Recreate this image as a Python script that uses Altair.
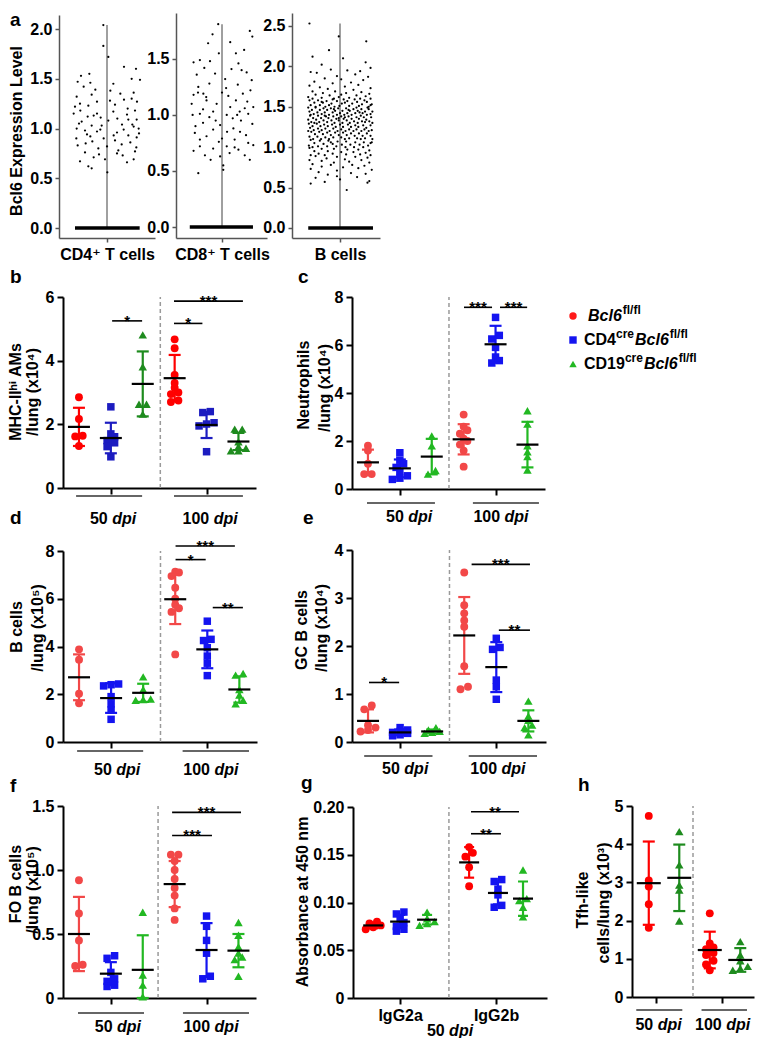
import altair as alt
import pandas as pd

FONT = "Liberation Sans, Arial, DejaVu Sans"
OX, OY = 8, 8
W, H = 747, 1030
FS = 16

# ---------------- data ----------------
# panel a: (jitter, expression) of non-zero cells
A1_PTS = [
    (-0.055, 2.04), (-0.055, 1.83), (0.02, 1.72), (0.255, 1.62), (-0.265, 1.55), (-0.39, 1.53), (0.435, 1.60),
    (0.37, 1.50), (0.495, 1.49), (-0.44, 1.47), (0.095, 1.45), (-0.175, 1.39), (-0.23, 1.34), (-0.455, 1.32),
    (0.255, 1.29), (0.37, 1.30), (0.045, 1.28), (-0.405, 1.25), (-0.28, 1.23), (0.31, 1.20), (0.42, 1.18),
    (0.095, 1.17), (-0.15, 1.15), (-0.5, 1.15), (-0.29, 1.12), (-0.095, 1.11), (0.155, 1.10), (0.32, 1.09),
    (0.445, 1.09), (-0.38, 1.07), (0.225, 1.04), (-0.23, 1.03), (-0.08, 1.03), (-0.455, 1.00), (0.40, 1.02),
    (0.475, 1.00), (-0.33, 0.98), (-0.15, 0.97), (0.15, 0.96), (0.32, 0.93), (-0.25, 0.92), (0.445, 0.91),
    (0.12, 0.88), (-0.32, 0.85), (-0.44, 0.83), (0.0, 0.82), (-0.13, 0.80), (0.17, 0.78), (0.42, 0.77),
    (0.235, 0.73), (-0.20, 0.71), (-0.405, 0.67), (0.40, 0.69), (-0.28, 0.62), (-0.23, 0.60), (0.005, 0.56),
    (-0.03, 0.69), (0.05, 1.38), (-0.35, 1.42), (0.20, 1.35), (0.45, 1.27), (-0.48, 1.22), (0.30, 1.14),
    (-0.20, 1.13), (0.02, 1.08), (-0.42, 1.05), (0.38, 1.04), (-0.10, 0.99), (0.25, 0.99), (-0.30, 0.94),
    (0.10, 0.93), (0.48, 0.95), (-0.05, 0.90), (0.35, 0.86), (-0.22, 0.87), (0.22, 0.84), (-0.46, 0.90),
    (0.15, 0.75), (-0.33, 0.76), (0.44, 0.81), (-0.12, 0.74), (0.30, 0.66), (-0.40, 1.18), (0.12, 1.24),
    (-0.15, 1.27), (0.40, 1.36), (-0.25, 1.46),
]
A2_PTS = [
    (-0.06, 1.81), (0.44, 1.75), (-0.22, 1.64), (0.13, 1.65), (-0.35, 1.49), (-0.45, 1.47), (-0.19, 1.48),
    (0.26, 1.46), (0.31, 1.40), (0.47, 1.31), (0.39, 1.38), (-0.11, 1.37), (-0.375, 1.25), (-0.45, 1.18),
    (-0.295, 1.19), (0.065, 1.24), (0.22, 1.13), (-0.245, 1.13), (-0.085, 1.10), (0.13, 1.07), (0.36, 1.06),
    (0.495, 1.07), (-0.465, 1.00), (-0.35, 1.01), (-0.14, 1.03), (0.075, 1.00), (0.24, 1.00), (0.415, 1.01),
    (-0.30, 0.93), (-0.14, 0.87), (-0.03, 0.91), (0.18, 0.88), (0.285, 0.85), (-0.43, 0.84), (-0.245, 0.81),
    (0.0, 0.79), (0.20, 0.78), (0.415, 0.75), (0.495, 0.73), (-0.35, 0.72), (-0.14, 0.70), (0.075, 0.72),
    (0.26, 0.69), (0.36, 0.64), (-0.27, 0.64), (-0.03, 0.63), (0.02, 0.55), (0.02, 0.51), (-0.375, 0.48),
    (-0.05, 1.55), (0.35, 1.58), (-0.40, 1.36), (0.05, 1.32), (0.45, 1.22), (-0.20, 1.28), (0.25, 1.27),
    (-0.48, 1.10), (0.10, 1.17), (-0.30, 1.05), (0.40, 1.12), (0.17, 0.97), (-0.10, 0.95), (0.48, 0.92),
    (-0.42, 0.90), (0.30, 0.95), (-0.20, 0.98), (0.08, 0.85), (-0.35, 0.78), (0.38, 0.82), (-0.05, 0.76),
    (0.20, 0.71), (-0.45, 0.68), (0.12, 0.66), (-0.18, 0.60), (0.44, 0.60), (0.28, 1.03), (-0.25, 1.16),
    (0.0, 1.20), (-0.38, 1.20), (0.33, 1.19), (0.15, 1.41), (-0.28, 1.42), (0.48, 1.70), (-0.15, 1.72),
    (0.22, 1.55),
]
A3_PTS = [
    (-0.50, 2.53), (-0.02, 2.37), (0.43, 2.31), (-0.18, 2.20), (0.05, 2.10), (-0.45, 2.12), (0.42, 2.05),
    (-0.30, 2.02), (0.50, 1.98), (-0.15, 1.96), (0.12, 1.95), (-0.48, 1.93), (0.33, 1.94), (-0.38, 1.92),
    (0.25, 1.90), (-0.05, 1.88), (0.46, 1.87), (-0.25, 1.85), (0.02, 1.84), (0.38, 1.83), (-0.42, 1.81),
    (0.18, 1.80), (-0.12, 1.79), (0.30, 1.77), (-0.50, 1.76), (0.08, 1.75), (-0.33, 1.74), (0.50, 1.73),
    (-0.20, 1.72), (0.22, 1.71),
    (-0.45, 1.69), (-0.08, 1.69), (0.35, 1.68), (0.10, 1.67), (-0.28, 1.67), (0.48, 1.66), (-0.40, 1.65),
    (0.02, 1.65), (0.27, 1.64), (-0.17, 1.64), (0.42, 1.63), (-0.52, 1.62), (-0.02, 1.62), (0.15, 1.61),
    (-0.30, 1.61), (0.33, 1.60), (-0.10, 1.60), (0.50, 1.60), (-0.45, 1.60), (0.06, 1.59),
    (-0.50, 1.58), (-0.36, 1.58), (-0.22, 1.57), (-0.05, 1.57), (0.12, 1.57), (0.28, 1.56), (0.44, 1.56),
    (-0.42, 1.55), (-0.28, 1.55), (-0.14, 1.54), (0.03, 1.54), (0.20, 1.54), (0.36, 1.53), (0.52, 1.53),
    (-0.48, 1.52), (-0.33, 1.52), (-0.18, 1.52), (-0.01, 1.51), (0.15, 1.51), (0.31, 1.51), (0.47, 1.50),
    (-0.40, 1.50), (-0.24, 1.50), (-0.09, 1.50), (0.08, 1.55), (0.24, 1.59), (0.40, 1.58), (-0.12, 1.59),
    (0.50, 1.52), (-0.30, 1.56),
    (-0.52, 1.49), (-0.40, 1.49), (-0.27, 1.48), (-0.15, 1.48), (-0.03, 1.48), (0.10, 1.48), (0.22, 1.47),
    (0.35, 1.47), (0.47, 1.47), (-0.46, 1.46), (-0.33, 1.46), (-0.21, 1.46), (-0.08, 1.45), (0.04, 1.45),
    (0.16, 1.45), (0.29, 1.45), (0.41, 1.44), (0.53, 1.44), (-0.50, 1.44), (-0.37, 1.43), (-0.25, 1.43),
    (-0.12, 1.43), (0.00, 1.42), (0.12, 1.42), (0.25, 1.42), (0.37, 1.42), (0.50, 1.41), (-0.43, 1.41),
    (-0.30, 1.41), (-0.18, 1.40), (-0.05, 1.40), (0.07, 1.40), (0.19, 1.40), (0.32, 1.43), (0.44, 1.40),
    (-0.48, 1.40), (0.27, 1.49), (-0.10, 1.47), (0.14, 1.46), (0.45, 1.49),
    (-0.49, 1.39), (-0.36, 1.39), (-0.23, 1.38), (-0.11, 1.38), (0.02, 1.38), (0.14, 1.38), (0.27, 1.37),
    (0.39, 1.37), (0.51, 1.37), (-0.44, 1.36), (-0.31, 1.36), (-0.19, 1.36), (-0.06, 1.35), (0.06, 1.35),
    (0.19, 1.35), (0.31, 1.35), (0.43, 1.34), (-0.52, 1.34), (-0.39, 1.34), (-0.27, 1.33), (-0.14, 1.33),
    (-0.02, 1.33), (0.11, 1.33), (0.23, 1.32), (0.36, 1.32), (0.48, 1.32), (-0.47, 1.31), (-0.34, 1.31),
    (-0.21, 1.31), (-0.09, 1.30), (0.04, 1.30), (0.16, 1.30), (0.29, 1.30), (0.41, 1.31), (0.53, 1.30),
    (-0.42, 1.30), (0.08, 1.37), (-0.25, 1.39), (0.34, 1.39), (-0.02, 1.36),
    (-0.51, 1.29), (-0.38, 1.29), (-0.26, 1.28), (-0.13, 1.28), (0.00, 1.28), (0.13, 1.28), (0.25, 1.27),
    (0.38, 1.27), (0.50, 1.27), (-0.45, 1.26), (-0.32, 1.26), (-0.20, 1.26), (-0.07, 1.25), (0.05, 1.25),
    (0.18, 1.25), (0.30, 1.25), (0.43, 1.24), (-0.49, 1.24), (-0.36, 1.23), (-0.24, 1.23), (-0.11, 1.23),
    (0.02, 1.22), (0.15, 1.22), (0.27, 1.22), (0.40, 1.22), (0.52, 1.21), (-0.43, 1.21), (-0.30, 1.21),
    (-0.17, 1.20), (-0.04, 1.20), (0.09, 1.20), (0.22, 1.20), (0.35, 1.20), (0.47, 1.20), (-0.52, 1.20),
    (-0.47, 1.19), (-0.34, 1.19), (-0.21, 1.18), (-0.08, 1.18), (0.05, 1.18), (0.18, 1.17), (0.31, 1.17),
    (0.44, 1.17), (-0.41, 1.16), (-0.28, 1.16), (-0.15, 1.15), (-0.02, 1.15), (0.11, 1.15), (0.24, 1.14),
    (0.37, 1.14), (0.50, 1.14), (-0.50, 1.13), (-0.37, 1.13), (-0.24, 1.12), (-0.11, 1.12), (0.02, 1.12),
    (0.15, 1.11), (0.28, 1.11), (0.41, 1.11), (-0.44, 1.10), (-0.31, 1.10), (-0.18, 1.10), (0.08, 1.10),
    (0.34, 1.10), (0.53, 1.10),
    (-0.48, 1.09), (-0.33, 1.08), (-0.19, 1.08), (-0.04, 1.07), (0.10, 1.07), (0.25, 1.06), (0.39, 1.06),
    (0.52, 1.06), (-0.42, 1.05), (-0.27, 1.04), (-0.12, 1.04), (0.03, 1.03), (0.17, 1.03), (0.32, 1.03),
    (0.46, 1.02), (-0.51, 1.02), (-0.36, 1.01), (-0.21, 1.01), (-0.06, 1.01), (0.09, 1.00), (0.23, 1.00),
    (0.38, 1.00), (-0.45, 1.00), (0.50, 1.05), (-0.15, 1.06),
    (-0.50, 0.99), (-0.30, 0.98), (-0.10, 0.98), (0.12, 0.97), (0.30, 0.97), (0.48, 0.96), (-0.42, 0.95),
    (-0.20, 0.95), (0.02, 0.94), (0.22, 0.94), (0.42, 0.93), (-0.35, 0.92), (-0.12, 0.92), (0.10, 0.91),
    (0.33, 0.91), (-0.48, 0.90), (0.50, 0.90), (-0.25, 0.90),
    (-0.40, 0.89), (-0.05, 0.88), (0.25, 0.88), (0.45, 0.87), (-0.22, 0.86), (0.08, 0.85), (-0.50, 0.84),
    (0.35, 0.84), (-0.30, 0.83), (0.15, 0.82), (-0.10, 0.81), (0.48, 0.81),
    (-0.45, 0.79), (-0.15, 0.78), (0.20, 0.78), (0.40, 0.77), (-0.30, 0.76), (0.05, 0.75), (0.30, 0.74),
    (-0.48, 0.73), (0.52, 0.72), (-0.05, 0.71),
    (-0.35, 0.69), (0.18, 0.68), (0.42, 0.67), (-0.20, 0.66), (-0.05, 0.64), (0.28, 0.63), (-0.40, 0.62),
    (0.00, 0.60), (0.48, 0.58), (-0.25, 0.57), (-0.48, 0.55), (0.45, 0.56), (0.11, 0.47),
]
A_ZERO_SPAN = [(-0.48, 0.49), (-0.51, 0.49), (-0.52, 0.54)]
A_NAMES = ["CD4⁺ T cells", "CD8⁺ T cells", "B cells"]

# panels b-f : groups = Bcl6 50dpi, CD4cre 50dpi, CD19cre 50dpi, Bcl6 100dpi, CD4cre 100dpi, CD19cre 100dpi
B_VALS = [[2.85, 2.17, 1.64, 1.62, 1.32], [2.55, 1.70, 1.61, 1.49, 1.42, 1.30, 0.98],
          [4.81, 3.81, 2.63, 2.63, 2.32], [4.67, 4.39, 3.55, 3.30, 3.15, 3.00, 2.95, 2.75, 2.70],
          [2.40, 2.37, 2.05, 2.01, 1.95, 1.14], [1.85, 1.85, 1.45, 1.30, 1.25, 1.17, 1.17]]
B_MEAN = [1.92, 1.57, 3.27, 3.45, 1.98, 1.46]
B_SD = [0.60, 0.48, 1.02, 0.73, 0.41, 0.27]
B_SIG = [(2.04, 2.98, 5.25, "*"), (3.98, 4.87, 5.17, "*"), (3.98, 6.14, 5.87, "***")]

C_VALS = [[1.80, 1.60, 1.05, 0.62, 0.62], [1.51, 1.20, 1.05, 0.90, 0.72, 0.55, 0.45, 0.40],
          [2.21, 1.80, 0.77, 0.62], [3.10, 2.60, 2.45, 2.30, 2.10, 2.00, 1.85, 1.60, 0.93],
          [7.15, 6.40, 6.25, 5.90, 5.50, 5.35, 5.25], [3.26, 2.70, 1.80, 1.55, 1.35, 0.79]]
C_MEAN = [1.11, 0.86, 1.35, 2.07, 6.03, 1.85]
C_SD = [0.53, 0.37, 0.74, 0.63, 0.77, 0.95]
C_SIG = [(4.01, 4.89, 7.57, "***"), (5.14, 5.99, 7.57, "***")]

D_VALS = [[3.88, 3.45, 2.02, 1.62], [2.43, 2.40, 2.35, 1.90, 1.60, 1.34, 0.95],
          [2.73, 2.20, 1.80, 1.78, 1.75], [7.13, 7.10, 6.95, 6.46, 6.00, 5.75, 5.60, 5.45, 3.67],
          [5.06, 4.30, 4.25, 3.95, 3.60, 3.30, 2.78], [2.87, 2.80, 2.20, 1.97, 1.75, 1.60]]
D_MEAN = [2.71, 1.84, 2.06, 5.98, 3.88, 2.20]
D_SD = [0.96, 0.62, 0.38, 1.04, 0.79, 0.55]
D_SIG = [(4.01, 4.95, 7.64, "*"), (4.01, 5.86, 8.21, "***"), (5.17, 6.11, 5.63, "**")]

E_VALS = [[0.76, 0.68, 0.35, 0.30, 0.25, 0.22], [0.30, 0.25, 0.22, 0.20, 0.18, 0.15, 0.13],
          [0.30, 0.25, 0.22, 0.20, 0.18], [3.53, 2.85, 2.68, 2.53, 2.40, 1.58, 1.15, 1.10],
          [2.16, 1.97, 1.93, 1.29, 1.15, 0.89], [0.85, 0.54, 0.45, 0.35, 0.30, 0.15]]
E_MEAN = [0.44, 0.20, 0.22, 2.22, 1.56, 0.44]
E_SD = [0.24, 0.06, 0.04, 0.80, 0.52, 0.22]
E_SIG = [(1.03, 1.97, 1.24, "*"), (4.23, 6.05, 3.70, "***"), (5.08, 6.05, 2.33, "**")]

F_VALS = [[0.92, 0.66, 0.45, 0.26, 0.25], [0.33, 0.31, 0.20, 0.15, 0.13, 0.10, 0.09],
          [0.67, 0.18, 0.10, 0.01], [1.12, 1.12, 1.07, 1.00, 0.93, 0.86, 0.80, 0.70, 0.61],
          [0.64, 0.56, 0.45, 0.35, 0.17, 0.15], [0.59, 0.49, 0.40, 0.35, 0.32, 0.30, 0.17]]
F_MEAN = [0.50, 0.19, 0.22, 0.89, 0.375, 0.37]
F_SD = [0.29, 0.09, 0.27, 0.18, 0.21, 0.13]
F_SIG = [(3.92, 6.08, 1.45, "***"), (3.92, 5.17, 1.27, "***")]

# panel g: IgG2a (Bcl6, CD4cre, CD19cre), IgG2b (Bcl6, CD4cre, CD19cre)
G_VALS = [[0.080, 0.078, 0.076, 0.074, 0.072], [0.090, 0.088, 0.083, 0.079, 0.075, 0.072, 0.070],
          [0.090, 0.083, 0.080, 0.078, 0.076], [0.158, 0.152, 0.148, 0.137, 0.117],
          [0.124, 0.122, 0.114, 0.108, 0.097, 0.095], [0.134, 0.104, 0.102, 0.095, 0.085]]
G_MEAN = [0.076, 0.080, 0.082, 0.142, 0.110, 0.104]
G_SD = [0.003, 0.007, 0.005, 0.016, 0.012, 0.018]
G_SIG = [(4.63, 5.74, 0.172, "**"), (4.63, 6.41, 0.195, "**")]

# panel h: Bcl6 50, CD19cre 50, Bcl6 100, CD19cre 100
H_VALS = [[4.74, 3.05, 2.89, 2.43, 1.81], [4.33, 3.46, 2.93, 2.80, 1.99],
          [2.19, 1.40, 1.30, 1.25, 1.15, 1.10, 0.95, 0.85, 0.70], [1.45, 1.10, 0.95, 0.80, 0.75, 0.70]]
H_MEAN = [2.98, 3.12, 1.23, 0.97]
H_SD = [1.09, 0.87, 0.48, 0.31]

# ---------------- helpers ----------------
def X(p):
    return p - OX


def Y(p):
    return p - OY


def lin(dom, r0, r1):
    return alt.Scale(domain=list(dom), range=[r0, r1], nice=False, zero=False)


ONE = pd.DataFrame({"k": [0]})


def text(x, y, s, size=FS, weight="bold", style="normal", align="left", baseline="middle", angle=None,
         color="black"):
    kw = dict(font=FONT, fontSize=size, fontWeight=weight, fontStyle=style, align=align, baseline=baseline,
              color=color)
    if angle is not None:
        kw["angle"] = angle
    return alt.Chart(ONE).mark_text(**kw).encode(x=alt.value(X(x)), y=alt.value(Y(y)), text=alt.value(s))


def axis_left(xp, values, fmt=None, expr=None, color="black", width=2.0, tick=6, pad=3, size=FS):
    kw = dict(orient="left", offset=-X(xp), values=values, title=None, grid=False, domainColor=color,
              domainWidth=width, tickColor=color, tickWidth=width, tickSize=tick, labelFont=FONT,
              labelFontSize=size, labelFontWeight="bold", labelColor="black", labelPadding=pad,
              labelOverlap=False, labelFlush=False)
    if fmt:
        kw["format"] = fmt
    if expr:
        kw["labelExpr"] = expr
    return alt.Axis(**kw)


def axis_bottom(yp, values, expr=None, labels=True, color="black", width=2.0, tick=6, pad=3, size=FS):
    kw = dict(orient="bottom", offset=Y(yp) - H, values=values, title=None, grid=False, domainColor=color,
              domainWidth=width, tickColor=color, tickWidth=width, tickSize=tick, labels=labels,
              labelFont=FONT, labelFontSize=size, labelFontWeight="bold", labelColor="black",
              labelPadding=pad, labelOverlap=False, labelFlush=False)
    if expr:
        kw["labelExpr"] = expr
    return alt.Axis(**kw)


def swarm(vals, ppy, step=7.5, thr=4.0, maxrow=3):
    idx = sorted(range(len(vals)), key=lambda i: vals[i])
    offs = [0.0] * len(vals)
    rows, cur = [], [idx[0]]
    for i in idx[1:]:
        if (vals[i] - vals[cur[0]]) * ppy < thr and len(cur) < maxrow:
            cur.append(i)
        else:
            rows.append(cur)
            cur = [i]
    rows.append(cur)
    for r in rows:
        n = len(r)
        for k, i in enumerate(r):
            offs[i] = (k - (n - 1) / 2.0) * step
    return offs


SHAPE_SIZE = {"circle": 62, "square": 56, "triangle-up": 72}


def dot_panel(geo, vals, means, sds, sig, colors, shapes, msize=22, capsize=12):
    xs = lin(geo["xdom"], X(geo["x0"]), X(geo["x1"]))
    ys = lin(geo["ydom"], Y(geo["yb"]), Y(geo["yt"]))
    ppx = (geo["x1"] - geo["x0"]) / (geo["xdom"][1] - geo["xdom"][0])
    ppy = (geo["yb"] - geo["yt"]) / (geo["ydom"][1] - geo["ydom"][0])
    pos = geo["pos"]
    n = len(pos)
    rows = []
    for g, (p, vs) in enumerate(zip(pos, vals)):
        offs = swarm(vs, ppy)
        for v, o in zip(vs, offs):
            rows.append({"x": p + o / ppx, "v": v, "g": g, "s": SHAPE_SIZE[shapes[g]]})
    pts = pd.DataFrame(rows)
    summ = pd.DataFrame({"x": pos, "m": means,
                         "lo": [max(geo["ydom"][0], m - s) for m, s in zip(means, sds)],
                         "hi": [m + s for m, s in zip(means, sds)], "g": list(range(n))})
    col = alt.Color("g:N", scale=alt.Scale(domain=list(range(n)), range=colors), legend=None)
    shp = alt.Shape("g:N", scale=alt.Scale(domain=list(range(n)), range=shapes), legend=None)
    ax_x = lambda f: alt.X(f, scale=xs, axis=None)
    ax_y = lambda f: alt.Y(f, scale=ys, axis=None)
    out = []
    dash = pd.DataFrame({"x": [geo["dash"]], "y0": [geo["ydom"][0]], "y1": [geo["ydom"][1]]})
    out.append(alt.Chart(dash).mark_rule(color="#9a9a9a", strokeWidth=1.5, strokeDash=[4, 3]).encode(
        x=ax_x("x:Q"), y=ax_y("y0:Q"), y2="y1:Q"))
    out.append(alt.Chart(pts).mark_point(filled=True, opacity=1, strokeWidth=0).encode(
        x=alt.X("x:Q", scale=xs, axis=geo["xaxis"]),
        y=alt.Y("v:Q", scale=ys, axis=geo["yaxis"]),
        color=col, shape=shp, size=alt.Size("s:Q", scale=None)))
    out.append(alt.Chart(summ).mark_rule(strokeWidth=2.2).encode(
        x=ax_x("x:Q"), y=ax_y("lo:Q"), y2="hi:Q", color=col))
    for f in ["lo:Q", "hi:Q"]:
        out.append(alt.Chart(summ).mark_tick(orient="horizontal", size=capsize, thickness=2.2, opacity=1).encode(
            x=ax_x("x:Q"), y=ax_y(f), color=col))
    out.append(alt.Chart(summ).mark_tick(orient="horizontal", size=msize, thickness=2.2, opacity=1,
                                         color="black").encode(x=ax_x("x:Q"), y=ax_y("m:Q")))
    if sig:
        sdf = pd.DataFrame(sig, columns=["x1", "x2", "y", "t"])
        sdf["xc"] = (sdf["x1"] + sdf["x2"]) / 2
        out.append(alt.Chart(sdf).mark_rule(color="black", strokeWidth=1.6).encode(
            x=ax_x("x1:Q"), x2="x2:Q", y=ax_y("y:Q")))
        out.append(alt.Chart(sdf).mark_text(font=FONT, fontSize=15, fontWeight="bold", baseline="alphabetic",
                                            dy=5).encode(x=ax_x("xc:Q"), y=ax_y("y:Q"), text="t:N"))
    if geo.get("ul"):
        udf = pd.DataFrame(geo["ul"], columns=["x1", "x2"])
        out.append(alt.Chart(udf).mark_rule(color="#333333", strokeWidth=1.5).encode(
            x=ax_x("x1:Q"), x2="x2:Q", y=alt.value(Y(geo["ul_y"]))))
    for c, num in geo.get("labs", []):
        wn = 0.556 * FS * len(num)
        ws = 0.278 * FS
        wd = 1.5 * FS
        tot = wn + ws + wd
        ldf = pd.DataFrame({"x": [c]})
        out.append(alt.Chart(ldf).mark_text(font=FONT, fontSize=FS, fontWeight="bold", align="left",
                                            baseline="middle", dx=-tot / 2).encode(
            x=ax_x("x:Q"), y=alt.value(Y(geo["lab_y"])), text=alt.value(num)))
        out.append(alt.Chart(ldf).mark_text(font=FONT, fontSize=FS, fontWeight="bold", fontStyle="italic",
                                            align="left", baseline="middle", dx=-tot / 2 + wn + ws).encode(
            x=ax_x("x:Q"), y=alt.value(Y(geo["lab_y"])), text=alt.value("dpi")))
    return out


layers = []

# ---------------- panel a ----------------
A_GEO = [
    dict(x0=59, x1=155, yb=238, yt=15, xdom=[-0.72, 0.72], ydom=[-0.1005, 2.141], ticks=[0, 0.5, 1, 1.5, 2]),
    dict(x0=176, x1=267, yb=238, yt=13, xdom=[-0.728, 0.712], ydom=[-0.098, 1.91], ticks=[0, 0.5, 1, 1.5]),
    dict(x0=292, x1=380, yb=238, yt=13, xdom=[-0.786, 0.655], ydom=[-0.124, 2.66],
         ticks=[0, 0.5, 1, 1.5, 2, 2.5]),
]
for geo, pts, zs, name in zip(A_GEO, [A1_PTS, A2_PTS, A3_PTS], A_ZERO_SPAN, A_NAMES):
    xs = lin(geo["xdom"], X(geo["x0"]), X(geo["x1"]))
    ys = lin(geo["ydom"], Y(geo["yb"]), Y(geo["yt"]))
    df = pd.DataFrame(pts, columns=["j", "v"])
    vline = pd.DataFrame({"j": [0.0], "lo": [0.0], "hi": [df["v"].max()]})
    zline = pd.DataFrame({"j1": [zs[0]], "j2": [zs[1]], "v": [0.0]})
    layers.append(alt.Chart(vline).mark_rule(color="#808080", strokeWidth=1.5).encode(
        x=alt.X("j:Q", scale=xs, axis=None), y=alt.Y("lo:Q", scale=ys, axis=None), y2="hi:Q"))
    layers.append(alt.Chart(zline).mark_rule(color="black", strokeWidth=3.5).encode(
        x=alt.X("j1:Q", scale=xs, axis=None), x2="j2:Q", y=alt.Y("v:Q", scale=ys, axis=None)))
    layers.append(alt.Chart(df).mark_circle(color="black", size=5, opacity=1).encode(
        x=alt.X("j:Q", scale=xs, axis=axis_bottom(geo["yb"], [0], expr="'%s'" % name, color="#555555",
                                                    width=1.5, tick=4, pad=4)),
        y=alt.Y("v:Q", scale=ys, axis=axis_left(geo["x0"], geo["ticks"], fmt=".1f", color="#555555",
                                                 width=1.5, tick=4, pad=3))))

# ---------------- panels b-h ----------------
C3 = lambda r, b, g: [r, b, g, r, b, g]
SH6 = ["circle", "square", "triangle-up", "circle", "square", "triangle-up"]
POS6 = [1, 2, 3, 4, 5, 6]
RED, RED_L = "#FF0000", "#F24848"
BLUE, BLUE_D = "#1414F0", "#1C1CC0"
GREEN, GREEN_D = "#22B822", "#1E8B1E"
INT_FMT = "d"
EXPR1 = "datum.value == 0 ? '0' : format(datum.value, '.1f')"
EXPR2 = "datum.value == 0 ? '0' : format(datum.value, '.2f')"


def std_geo(x0, x1, yb, yt, ydom, yticks, dash, ul, ul_y, labs, lab_y, fmt=INT_FMT, expr=None):
    return dict(x0=x0, x1=x1, yb=yb, yt=yt, xdom=[0.5, 6.55], ydom=ydom, pos=POS6, dash=dash,
                ul=ul, ul_y=ul_y, labs=labs, lab_y=lab_y,
                xaxis=axis_bottom(yb, [2, 5], labels=False),
                yaxis=axis_left(x0, yticks, fmt=None if expr else fmt, expr=expr))


GEO_B = std_geo(63, 256, 488, 297, [0, 6], [0, 2, 4, 6], 3.55, [(0.91, 2.98), (3.98, 6.14)], 496,
                [(2.07, "50"), (5.11, "100")], 519)
GEO_C = std_geo(352, 545, 489, 297, [0, 8], [0, 2, 4, 6, 8], 3.54, [(0.97, 3.10), (4.29, 6.36)], 503,
                [(2.29, "50"), (5.17, "100")], 517)
GEO_D = std_geo(63, 257, 742, 551, [0, 8], [0, 2, 4, 6, 8], 3.54, [(0.94, 3.00), (4.23, 6.30)], 751,
                [(2.19, "50"), (5.11, "100")], 770)
GEO_E = std_geo(352, 546, 742, 550, [0, 4], [0, 1, 2, 3, 4], 3.54, [(0.88, 3.01), (4.14, 6.27)], 756,
                [(2.16, "50"), (5.05, "100")], 769)
GEO_F = std_geo(63, 256, 998, 806, [0, 1.5], [0, 0.5, 1.0, 1.5], 3.48, [(0.97, 3.04), (4.26, 6.33)], 1013,
                [(2.22, "50"), (5.14, "100")], 1027, expr=EXPR1)
GEO_G = dict(x0=353, x1=547, yb=998, yt=807, xdom=[0.25, 7.45], ydom=[0, 0.2],
             pos=[1, 2, 3, 4.56, 5.63, 6.56], dash=3.81, labs=[(3.85, "50")], lab_y=1031,
             xaxis=axis_bottom(998, [2, 5.56], expr="datum.value < 3 ? 'IgG2a' : 'IgG2b'", pad=3),
             yaxis=axis_left(353, [0, 0.05, 0.10, 0.15, 0.20], expr=EXPR2))
GEO_H = dict(x0=632, x1=754, yb=997, yt=806, xdom=[0.45, 4.45], ydom=[0, 5], pos=[1, 2, 3, 4], dash=2.45,
             ul=[(0.59, 2.10), (2.73, 4.22)], ul_y=1010, labs=[(1.32, "50"), (3.42, "100")], lab_y=1025,
             xaxis=axis_bottom(997, [1.25, 3.4], labels=False),
             yaxis=axis_left(632, [0, 1, 2, 3, 4, 5], fmt=INT_FMT))

layers += dot_panel(GEO_B, B_VALS, B_MEAN, B_SD, B_SIG, C3(RED, BLUE_D, GREEN_D), SH6)
layers += dot_panel(GEO_C, C_VALS, C_MEAN, C_SD, C_SIG, C3(RED_L, BLUE, GREEN), SH6)
layers += dot_panel(GEO_D, D_VALS, D_MEAN, D_SD, D_SIG, C3(RED_L, BLUE, GREEN), SH6)
layers += dot_panel(GEO_E, E_VALS, E_MEAN, E_SD, E_SIG, C3(RED_L, BLUE, GREEN), SH6)
layers += dot_panel(GEO_F, F_VALS, F_MEAN, F_SD, F_SIG, C3(RED_L, BLUE, GREEN), SH6)
layers += dot_panel(GEO_G, G_VALS, G_MEAN, G_SD, G_SIG, C3(RED, BLUE, GREEN), SH6, msize=20, capsize=10)
layers += dot_panel(GEO_H, H_VALS, H_MEAN, H_SD, [], [RED, GREEN_D, RED, GREEN_D],
                    ["circle", "triangle-up", "circle", "triangle-up"], msize=24)

# ---------------- axis titles ----------------
TITLES = [
    (17, 131, "Bcl6 Expression Level"),
    (16, 392, "MHC-IIʰⁱ AMs"), (33, 392, "/lung (x10⁴)"),
    (304, 385, "Neutrophils"), (325, 388, "/lung (x10⁴)"),
    (17, 627, "B cells"), (38, 628, "/lung (x10⁵)"),
    (302, 630, "GC B cells"), (322, 628, "/lung (x10⁴)"),
    (16, 884, "FO B cells"), (33, 890, "/lung (x10⁵)"),
    (303, 902, "Absorbance at 450 nm"),
    (583, 900, "Tfh-like"), (604, 903, "cells/lung (x10³)"),
]
for x, y, s in TITLES:
    layers.append(text(x, y, s, size=FS, align="center", baseline="middle", angle=270))

# ---------------- panel letters ----------------
LETTERS = [("a", 10, 26), ("b", 10, 283), ("c", 298, 283), ("d", 10, 524), ("e", 303, 524),
           ("f", 10, 792), ("g", 301, 789), ("h", 578, 791)]
for s, x, y in LETTERS:
    layers.append(text(x, y, s, size=19, baseline="alphabetic"))

# ---------------- legend ----------------
LEG_Y = [316, 340, 364]
LEG_COL = ["#FF1A1A", BLUE, GREEN]
LEG_SHAPE = ["circle", "square", "triangle-up"]
for y, c, sh in zip(LEG_Y, LEG_COL, LEG_SHAPE):
    layers.append(alt.Chart(ONE).mark_point(filled=True, opacity=1, color=c, size=55).encode(
        x=alt.value(X(573)), y=alt.value(Y(y)), shape=alt.value(sh)))

LFS = 16


def wid(size, em):
    return em * size


# row 1: Bcl6^fl/fl
layers.append(text(588, 316, "Bcl6", size=LFS, style="italic"))
layers.append(text(588 + wid(LFS, 2.112) + 1, 310, "fl/fl", size=12))
# row 2: CD4^cre Bcl6^fl/fl
x = 584
layers.append(text(x, 340, "CD4", size=LFS))
x += wid(LFS, 2.0)
layers.append(text(x, 334, "cre", size=12))
x += wid(12, 1.5) + 1
layers.append(text(x, 340, "Bcl6", size=LFS, style="italic"))
x += wid(LFS, 2.112) + 1
layers.append(text(x, 334, "fl/fl", size=12))
# row 3: CD19^cre Bcl6^fl/fl
x = 584
layers.append(text(x, 364, "CD19", size=LFS))
x += wid(LFS, 2.556)
layers.append(text(x, 358, "cre", size=12))
x += wid(12, 1.5) + 1
layers.append(text(x, 364, "Bcl6", size=LFS, style="italic"))
x += wid(LFS, 2.112) + 1
layers.append(text(x, 358, "fl/fl", size=12))

chart = alt.layer(*layers).resolve_scale(
    x="independent", y="independent", color="independent", shape="independent", size="independent"
).properties(
    width=W, height=H, padding=0, autosize=alt.AutoSizeParams(type="none")
).configure_view(stroke=None)

chart.save("out.html", embed_options={"renderer": "svg", "actions": False})
